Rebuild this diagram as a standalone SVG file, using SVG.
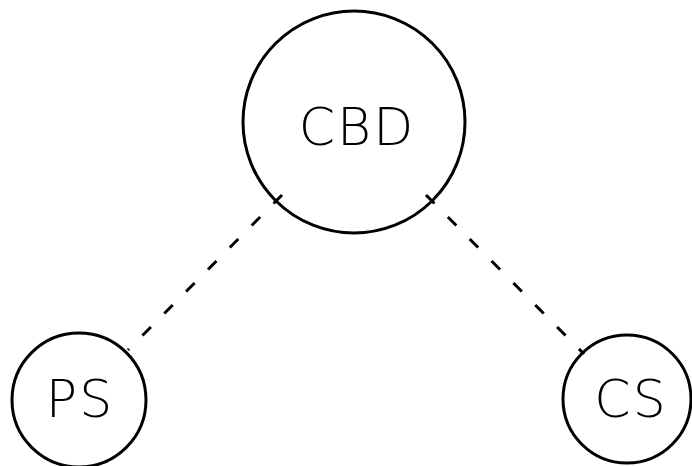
<svg xmlns="http://www.w3.org/2000/svg" width="692" height="466" viewBox="0 0 692 466">
<style>
.node{fill:none;stroke:#000;stroke-width:3}
.lbl{font-family:"DejaVu Sans",sans-serif;font-weight:200;font-size:52px;letter-spacing:2px;fill:#000;text-anchor:middle}
.edge{stroke:#000;stroke-width:3;stroke-dasharray:12 19;fill:none}
</style>
<rect width="692" height="466" fill="#fff"/>
<g id="connectors">
<line class="edge" x1="282" y1="195" x2="128" y2="350"/>
<line class="edge" x1="426" y1="195" x2="584" y2="354"/>
</g>
<g id="CBD">
<circle class="node" cx="354" cy="122" r="111"/>
<text class="lbl" x="357" y="145">CBD</text>
</g>
<g id="PS">
<circle class="node" cx="79" cy="400" r="67"/>
<text class="lbl" x="80" y="417">PS</text>
</g>
<g id="CS">
<circle class="node" cx="627" cy="399" r="64"/>
<text class="lbl" x="631" y="417">CS</text>
</g>
</svg>
